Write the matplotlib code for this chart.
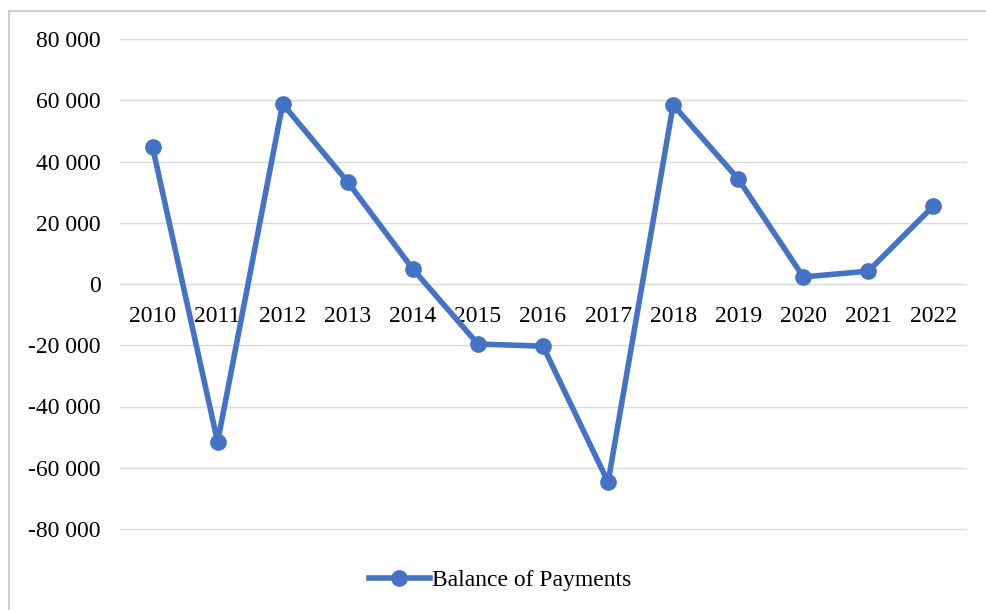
import matplotlib
matplotlib.use("Agg")
import matplotlib.pyplot as plt
from matplotlib.patches import Rectangle
from matplotlib.ticker import FuncFormatter

years = ["2010", "2011", "2012", "2013", "2014", "2015", "2016",
         "2017", "2018", "2019", "2020", "2021", "2022"]
balance = [44800, -51600, 58800, 33300, 4900, -19600, -20300,
           -64700, 58500, 34300, 2300, 4200, 25500]
y_ticks = [-80000, -60000, -40000, -20000, 0, 20000, 40000, 60000, 80000]
series_name = "Balance of Payments"

W, H = 987, 610
fig = plt.figure(figsize=(W / 100, H / 100), dpi=100)
fig.patch.set_facecolor("white")
plt.rcParams["font.family"] = ["Liberation Serif", "DejaVu Serif"]

# chart border
fig.add_artist(Rectangle((9 / W, -0.05), 1.1, 1 - 11 / H + 0.05,
                         transform=fig.transFigure, fill=False,
                         edgecolor="#d0d0d0", linewidth=1.5))

ax = fig.add_axes([120 / W, 1 - 529 / H, (966 - 120) / W, (529 - 39) / H])
x = list(range(len(years)))
ax.plot(x, balance, color="#4472C4", linewidth=4, marker="o", markersize=11,
        label=series_name, clip_on=False, zorder=3)
ax.set_xlim(-0.5, len(years) - 0.5)
ax.set_ylim(-80000, 80000)
ax.set_yticks(y_ticks)
ax.yaxis.set_major_formatter(FuncFormatter(lambda v, p: f"{int(v):,}".replace(",", " ")))
ax.set_xticks(x)
ax.set_xticklabels(years)
ax.grid(axis="y", color="#d9d9d9", linewidth=1)
for gl in ax.get_ygridlines():
    gl.set_clip_on(False)
ax.set_axisbelow(True)
for s in ["top", "right", "left"]:
    ax.spines[s].set_visible(False)
ax.spines["bottom"].set_position(("data", 0))
ax.spines["bottom"].set_color("#d9d9d9")
ax.tick_params(axis="both", length=0, labelsize=17, colors="black")
ax.tick_params(axis="y", pad=14)
ax.tick_params(axis="x", pad=16)

leg = fig.legend(loc="center", bbox_to_anchor=(500 / W, 1 - 580 / H), frameon=False,
                 fontsize=17, handlelength=2.6, handletextpad=0.1)

fig.savefig("out.png", dpi=100, facecolor="white")
